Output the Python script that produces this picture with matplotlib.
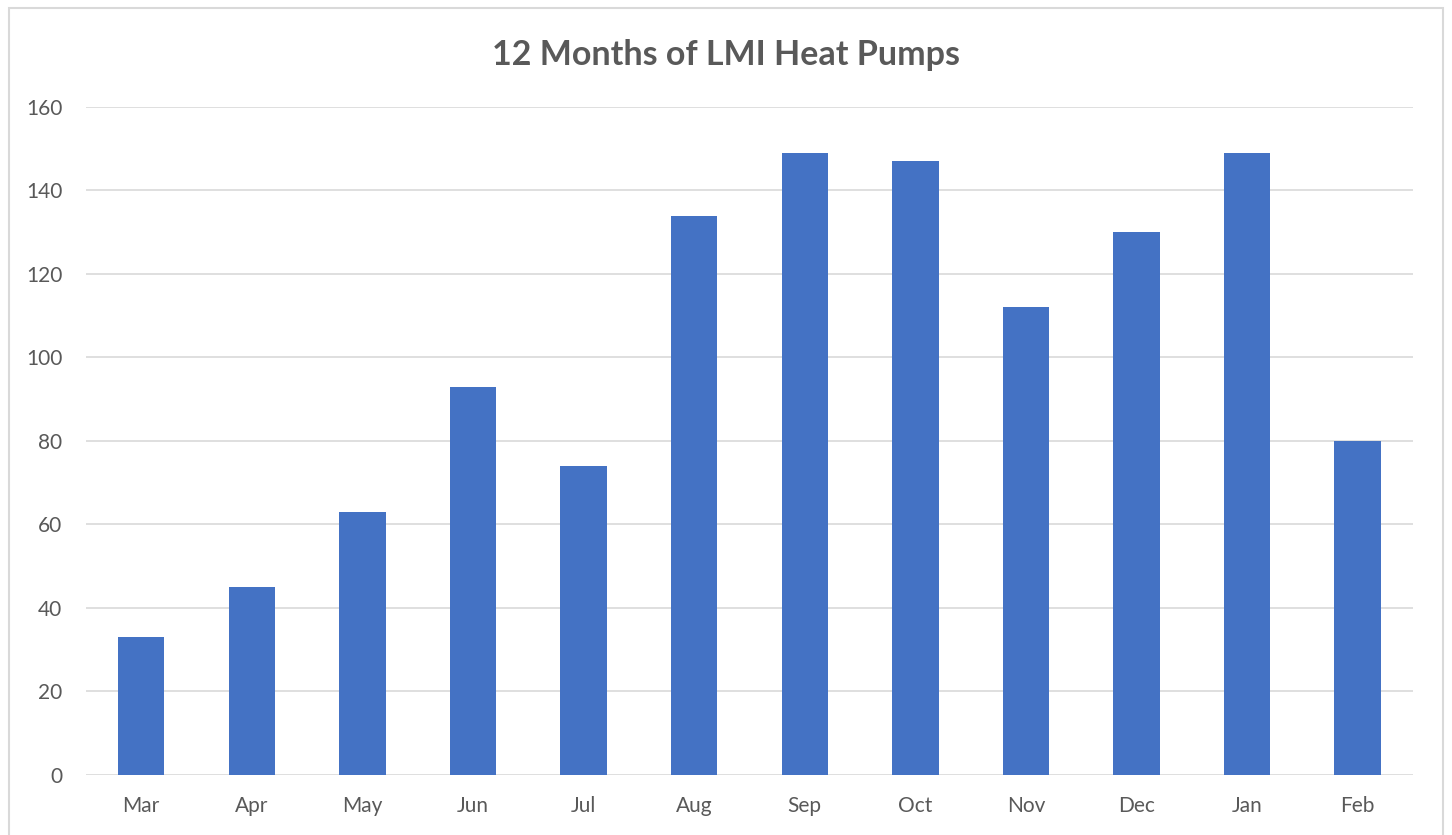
import matplotlib.pyplot as plt
from matplotlib.patches import Rectangle

# data
months = ['Mar', 'Apr', 'May', 'Jun', 'Jul', 'Aug', 'Sep', 'Oct', 'Nov', 'Dec', 'Jan', 'Feb']
heat_pumps = [33, 45, 63, 93, 74, 134, 149, 147, 112, 130, 149, 80]
y_ticks = [0, 20, 40, 60, 80, 100, 120, 140, 160]

plt.rcParams['font.family'] = ['Lato', 'DejaVu Sans']

fig = plt.figure(figsize=(14.52, 8.35), dpi=100)
ax = fig.add_axes([0.0592, 0.0719, 0.9139, 0.80])

# chart border
fig.patches.append(Rectangle((9 / 1452, -0.01), (1443 - 9) / 1452, 1.01 - 8 / 835,
                             transform=fig.transFigure, fill=False,
                             edgecolor='#d9d9d9', linewidth=1.5))

ax.bar(range(len(months)), heat_pumps, width=0.42, color='#4472C4', zorder=3)

ax.set_xlim(-0.5, len(months) - 0.5)
ax.set_ylim(0, 160)
ax.set_yticks(y_ticks)
ax.set_xticks(range(len(months)))
ax.set_xticklabels(months)
ax.grid(axis='y', color='#d9d9d9', linewidth=1.2, zorder=0)
for s in ax.spines.values():
    s.set_visible(False)
ax.tick_params(length=0, labelsize=15, labelcolor='#595959')
ax.tick_params(axis='y', pad=17)
ax.tick_params(axis='x', pad=15)

fig.text(0.5, 0.934, '12 Months of LMI Heat Pumps', ha='center', va='center',
         fontsize=24.5, fontweight='bold', color='#595959')

fig.savefig('out.png', dpi=100)
